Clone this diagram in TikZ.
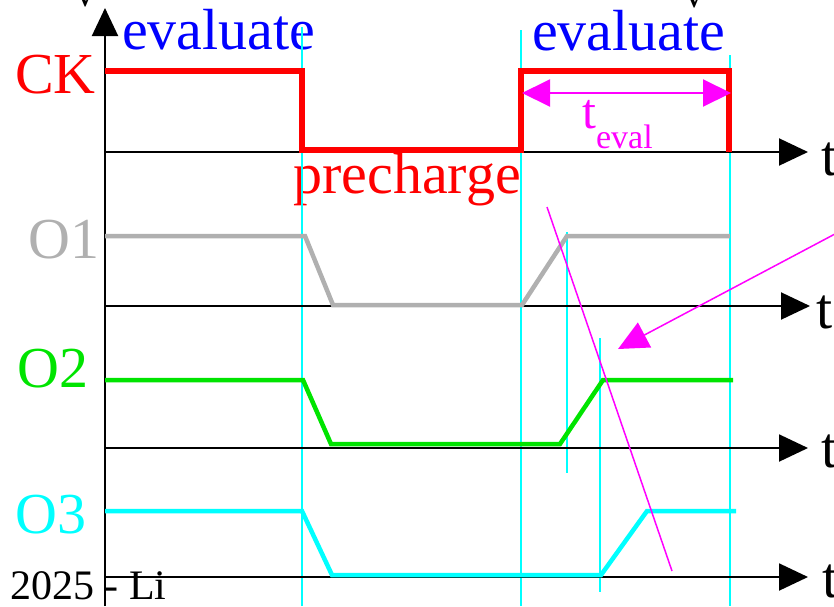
\documentclass[tikz,border=0pt]{standalone}
\usepackage{fontspec}
\setmainfont{Liberation Serif}
\usetikzlibrary{arrows.meta}
\definecolor{sigcyan}{RGB}{0,255,255}
\definecolor{siggreen}{RGB}{0,228,0}
\definecolor{siggray}{RGB}{176,176,176}
\definecolor{sigmag}{RGB}{255,0,255}
\begin{document}
\begin{tikzpicture}[x=1pt,y=-1pt,line join=miter,
	axis/.style={line width=2pt,-{Triangle[length=29pt,width=27pt]}},
	wave/.style={line width=4.5pt},
	guide/.style={sigcyan,line width=1.5pt},
	lbl/.style={inner sep=0pt,anchor=base west,font=\fontsize{58}{60}\selectfont}]
	\useasboundingbox (0,0) rectangle (834,606);
	\node[lbl,anchor=base,font=\fontsize{36}{36}\selectfont] (vl) at (85,6) {V};
	\node[lbl,anchor=base,font=\fontsize{36}{36}\selectfont] (vr) at (694,7) {V};
	\node[lbl,blue] (evalA) at (122,49) {evaluate};
	\node[lbl,blue] (evalB) at (532,50) {evaluate};
	\node[lbl,red] (ck) at (15,93) {CK};
	\node[lbl,red] (pre) at (293,193) {precharge};
	\node[lbl,siggray] (o1) at (28,258) {O1};
	\node[lbl,siggreen] (o2) at (17,387) {O2};
	\node[lbl,sigcyan] (o3) at (15,533) {O3};
	\node[lbl,font=\fontsize{42}{42}\selectfont] (credit) at (10,599) {2025 - Li};
	\draw[guide] (302,27) -- (302,606);
	\draw[guide] (521,30) -- (521,606);
	\draw[guide] (730,55) -- (730,606);
	\draw[guide] (567,232) -- (567,473);
	\draw[guide] (600,338) -- (600,592);
	\draw[line width=2pt,-{Triangle[length=28pt,width=26pt]}] (105,606) -- (105,8);
	\draw[axis] (105,152) -- (808,152) node[lbl] (tck) at (820,175) {t};
	\draw[axis] (105,306) -- (810,306) node[lbl] (to1) at (815,328) {t};
	\draw[axis] (105,448) -- (808,448) node[lbl] (to2) at (820,467) {t};
	\draw[axis] (105,577) -- (808,577) node[lbl] (to3) at (821,597) {t};
	\draw[wave,red,line width=5.5pt] (105,71) -- (302,71) -- (302,150) -- (521,150) -- (521,71) -- (729,71) -- (729,152);
	\draw[wave,siggray] (105,236) -- (305,236) -- (333,305) -- (522,305) -- (567,236) -- (730,236);
	\draw[wave,siggreen] (105,380) -- (303,380) -- (331,444) -- (560,444) -- (603,380) -- (733,380);
	\draw[wave,sigcyan] (105,511) -- (302,511) -- (332,575) -- (601,575) -- (647,511) -- (736,511);
	\draw[sigmag,line width=2pt,{Triangle[length=28pt,width=27pt]}-{Triangle[length=28pt,width=27pt]}] (522,93) -- (731,93);
	\node[lbl,sigmag,font=\fontsize{50}{50}\selectfont] (teval) at (582,128) {t\raisebox{-20pt}{\fontsize{34}{34}\selectfont eval}};
	\draw[sigmag,line width=1.5pt] (547,207) -- (672,571);
	\draw[sigmag,line width=1.5pt,-{Triangle[length=30pt,width=28pt]}] (850,226) -- (618,349);
\end{tikzpicture}
\end{document}
